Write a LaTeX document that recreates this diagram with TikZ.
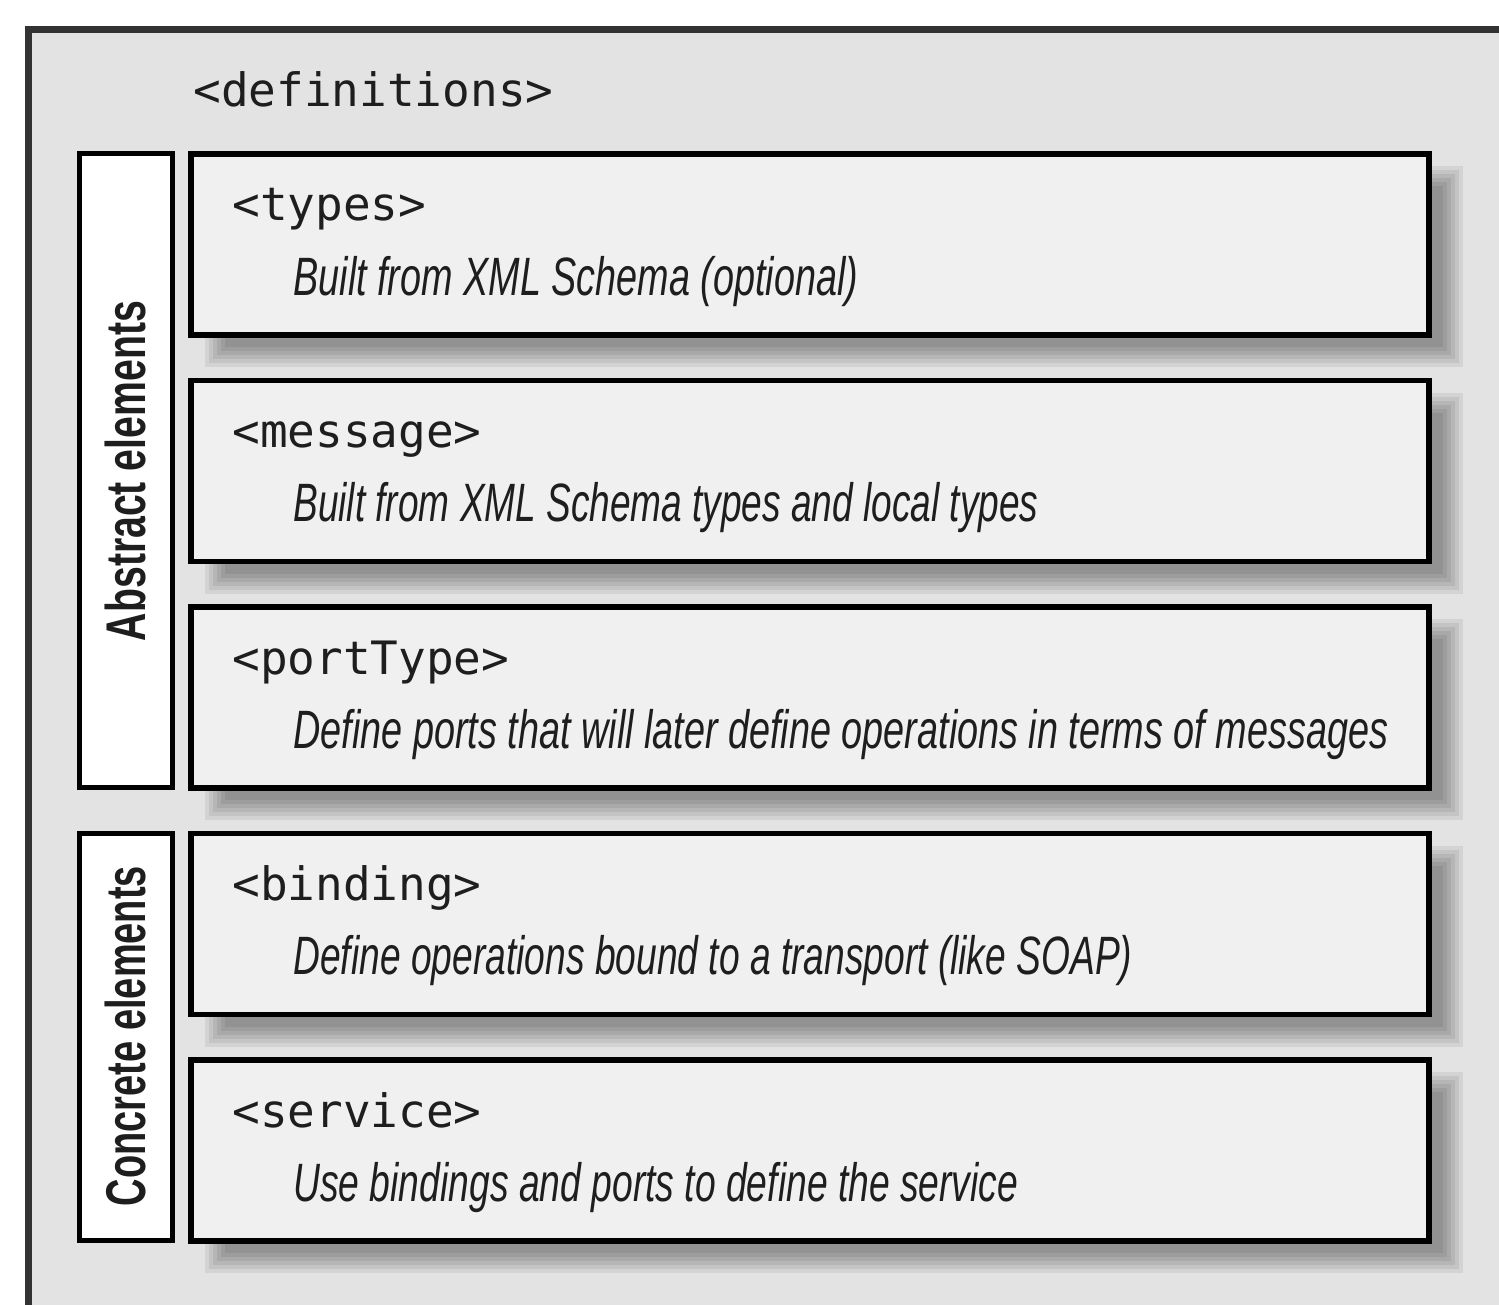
\documentclass[tikz,border=0pt]{standalone}
\usepackage{fontspec}
\usepackage{graphicx}
\setmainfont{Liberation Sans}
\newfontfamily\monof{DejaVu Sans Mono}
\newfontfamily\descf{Liberation Sans}
\definecolor{framebg}{HTML}{E3E3E3}
\definecolor{framedraw}{HTML}{333333}
\definecolor{boxfill}{HTML}{F0F0F0}
\definecolor{inkc}{HTML}{1E1E1E}
\newcommand\fitto[2]{\resizebox{#1}{\height}{#2}}
\tikzset{
  mainbox/.style={draw=black, line width=2.75pt, fill=boxfill, rectangle,
    minimum width=619pt, minimum height=90.5pt, inner sep=0pt, outer sep=0pt, anchor=north west},
  sidebox/.style={draw=black, line width=2.5pt, fill=white, rectangle,
    minimum width=46.5pt, inner sep=0pt, outer sep=0pt, anchor=north west},
  monolabel/.style={font=\monof\fontsize{23}{23}\selectfont, text=inkc, inner sep=0pt, anchor=base west},
  desclabel/.style={font=\descf\itshape\fontsize{27}{27}\selectfont, text=inkc, inner sep=0pt, anchor=base west},
  sidelabel/.style={font=\bfseries\fontsize{28}{28}\selectfont, text=inkc, inner sep=0pt, rotate=90, anchor=base},
}
\begin{document}
\begin{tikzpicture}[x=0.5pt, y=-0.5pt]
\useasboundingbox (0,0) rectangle (1499,1305);
\clip (0,0) rectangle (1499,1305);
% outer definitions frame
\draw[line width=3.5pt, draw=framedraw, fill=framebg] (28,30) rectangle (1580,1380);
\node[monolabel] (defs) at (193,107) {<definitions>};
% blurred shadows
\foreach \t in {154,380.5,607,833.5,1060}{
  \foreach \e in {-10,-6,-2,2,6,10}{
    \fill[black, opacity=0.065] (215-\e,\t+22-\e) rectangle (1453+\e,\t+203+\e);
  }
}
% element boxes
\node[mainbox] (types) at (191,154) {};
\node[mainbox] (message) at (191,380.5) {};
\node[mainbox] (porttype) at (191,607) {};
\node[mainbox] (binding) at (191,833.5) {};
\node[mainbox] (service) at (191,1060) {};
% side boxes
\node[sidebox, minimum height=316.5pt] (abstract) at (79,154) {};
\node[sidebox, minimum height=203.5pt] (concrete) at (79,833.5) {};
\node[sidelabel] (abstractlbl) at (145,471) {\fitto{170pt}{Abstract elements}};
\node[sidelabel] (concretelbl) at (145,1036) {\fitto{170pt}{Concrete elements}};
% texts
\node[monolabel] (typest) at (232,221) {<types>};
\node[desclabel] (typesd) at (293,295) {\fitto{282.5pt}{Built from XML Schema (optional)}};
\node[monolabel] (messaget) at (232,447.5) {<message>};
\node[desclabel] (messaged) at (293,521.5) {\fitto{372.5pt}{Built from XML Schema types and local types}};
\node[monolabel] (porttypet) at (232,674) {<portType>};
\node[desclabel] (porttyped) at (293,748) {\fitto{547.5pt}{Define ports that will later define operations in terms of messages}};
\node[monolabel] (bindingt) at (232,900.5) {<binding>};
\node[desclabel] (bindingd) at (293,974.5) {\fitto{419.5pt}{Define operations bound to a transport (like SOAP)}};
\node[monolabel] (servicet) at (232,1127) {<service>};
\node[desclabel] (serviced) at (293,1201) {\fitto{362.5pt}{Use bindings and ports to define the service}};
\end{tikzpicture}
\end{document}
